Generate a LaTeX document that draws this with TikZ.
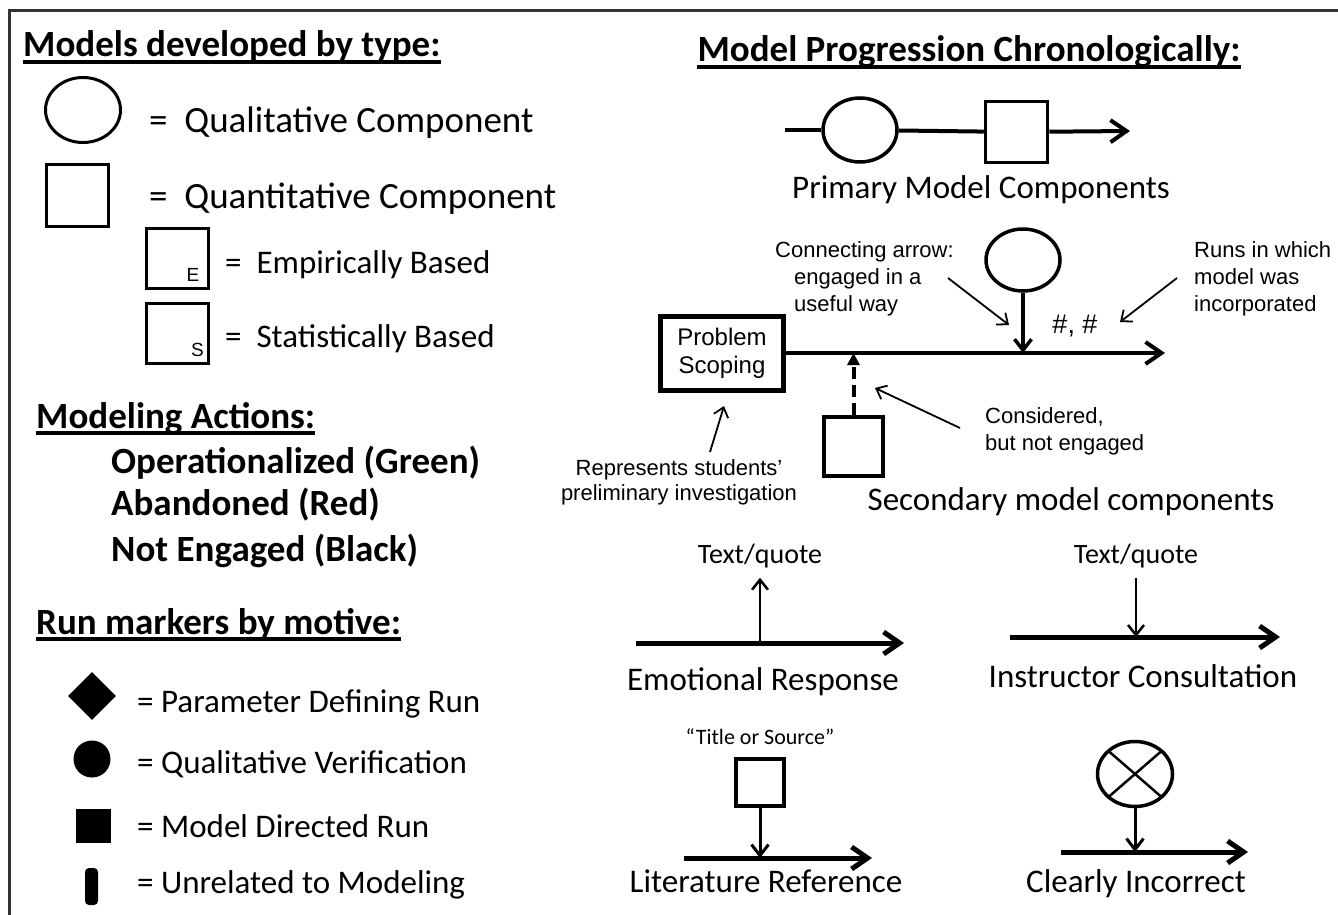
\documentclass[tikz,border=0pt]{standalone}
\usepackage{fontspec}
\setmainfont{Carlito}
\newfontfamily\arialf{Liberation Sans}
\usetikzlibrary{shapes.geometric,arrows.meta}

\begin{document}
\begin{tikzpicture}[x=1pt, y=-1pt,
	heading/.style={anchor=base west, inner sep=0pt, font=\bfseries\fontsize{37}{44}\selectfont},
	big/.style={anchor=base west, inner sep=0pt, font=\fontsize{37}{44}\selectfont},
	body/.style={inner sep=0pt, font=\fontsize{33}{40}\selectfont},
	note/.style={inner sep=0pt, font=\arialf\fontsize{22}{27}\selectfont},
	corner/.style={anchor=base, inner sep=0pt, font=\arialf\fontsize{19}{22}\selectfont},
	quote/.style={anchor=base, inner xsep=0pt, inner ysep=10pt, font=\fontsize{28}{34}\selectfont},
	qual/.style={ellipse, draw, fill=white, inner sep=0pt},
	quant/.style={rectangle, draw, fill=white, inner sep=0pt},
	marker/.style={fill=black, inner sep=0pt},
	bigtip/.style={-{Straight Barb[length=16pt,width=22pt]}},
	midtip/.style={-{Straight Barb[length=11pt,width=17pt]}},
	smalltip/.style={-{Straight Barb[length=10pt,width=16pt]}},
	thin arrow/.style={line width=1.8pt, -{Straight Barb[length=9pt,width=15pt]}}
	]

	\useasboundingbox (0,0) rectangle (1338,915);
	\draw[line width=3pt, black!80] (9,925) -- (9,11) -- (1345,11);

	% models by type
	\node[heading] (hmod) at (23,57) {Models developed by type:};
		\node[qual, line width=3pt, minimum width=75pt, minimum height=65pt] (legqual) at (83,110) {};
		\node[big] (txtqual) at (149,132) {=~~Qualitative Component};
		\node[quant, line width=3pt, minimum size=62pt] (legquant) at (77.5,195.5) {};
		\node[big] (txtquant) at (149,208) {=~~Quantitative Component};
			\node[quant, line width=3pt, minimum width=62pt, minimum height=60pt] (legemp) at (177.5,258.5) {};
			\node[corner] (emp) at (193,281) {E};
			\node[body, anchor=base west] (txtemp) at (225,273) {=~~Empirically Based};
			\node[quant, line width=3pt, minimum width=62pt, minimum height=60pt] (legstat) at (177.5,333.5) {};
			\node[corner] (stat) at (197.5,356) {S};
			\node[body, anchor=base west] (txtstat) at (225,347) {=~~Statistically Based};

	% actions
	\node[heading] (hact) at (36,428) {Modeling Actions:};
		\node[heading] (opr) at (111,473) {Operationalized (Green)};
		\node[heading] (abd) at (111,515) {Abandoned (Red)};
		\node[heading] (neg) at (111,561) {Not Engaged (Black)};

	% run markers
	\node[heading] (hrun) at (36,634) {Run markers by motive:};
		\node[diamond, marker, minimum width=48pt, minimum height=48pt] (mkpar) at (92,696) {};
		\node[body, anchor=base west] (txtpar) at (137,712) {= Parameter Defining Run};
		\node[circle, marker, minimum size=37pt] (mkver) at (92,759) {};
		\node[body, anchor=base west] (txtver) at (137,773) {= Qualitative Verification};
		\node[rectangle, marker, minimum width=35pt, minimum height=34pt] (mkdir) at (93.5,826) {};
		\node[body, anchor=base west] (txtdir) at (137,837) {= Model Directed Run};
		\node[rectangle, marker, rounded corners=4pt, minimum width=13pt, minimum height=37pt] (mkunr) at (91.5,886.5) {};
		\node[body, anchor=base west] (txtunr) at (137,893) {= Unrelated to Modeling};

	% progression
	\node[heading, anchor=base] (hprog) at (969,62) {Model Progression Chronologically:};

	\foreach \h in {hmod,hact,hrun,hprog}
		\draw[line width=3.5pt] ([yshift=-5pt]\h.base west) -- ([yshift=-5pt]\h.base east);

	% primary
	\coordinate (pstart) at (785,130);
	\coordinate (pend) at (1130,131);
	\node[qual, line width=3.5pt, minimum width=74pt, minimum height=64pt] (pqual) at (860,130) {};
	\node[quant, line width=3.5pt, minimum width=62pt, minimum height=61pt] (pquant) at (1016.5,132) {};
	\draw[line width=4pt] (pstart) -- (pqual);
	\draw[line width=4pt] (pqual) -- (pquant);
	\draw[line width=4pt, bigtip] (pquant) -- (pend);
	\node[body, anchor=base] (pcap) at (981,198) {Primary Model Components};

	% secondary
	\node[draw, line width=5pt, minimum width=123pt, minimum height=74pt, inner sep=0pt, align=center, font=\arialf\fontsize{24}{28}\selectfont] (scope) at (722,353) {Problem\\Scoping};
	\coordinate (send) at (1165,353);
	\draw[line width=4pt, bigtip] (scope) -- (send);
	\node[qual, line width=3.5pt, minimum width=74pt, minimum height=62pt] (squal) at (1023,260) {};
	\coordinate (squalin) at (1023,353);
	\draw[line width=3.5pt, midtip] (squal) -- (squalin);
	\node[note, anchor=base, font=\arialf\fontsize{27}{32}\selectfont] (runs) at (1075,333) {\#, \#};
	\node[quant, line width=4pt, minimum width=59pt, minimum height=59pt] (squant) at (853.5,446.5) {};
	\coordinate (squantin) at (853.5,353);
	\draw[line width=4pt, dash pattern=on 12pt off 6pt, -{Triangle[length=12pt,width=12pt]}] (squant) -- (squantin);
	\node[body, anchor=base] (scap) at (1071,510) {Secondary model components};

	\node[note, anchor=base west, align=left] (connnote) at (794,311) {\hspace*{-19pt}Connecting arrow:\\engaged in a\\useful way};
	\node[note, anchor=base west, align=left] (runsnote) at (1194,311) {Runs in which\\model was\\incorporated};
	\node[note, anchor=base west, align=left] (consnote) at (985,450) {Considered,\\but not engaged};
	\node[note, anchor=base, align=center, font=\arialf\fontsize{22}{25}\selectfont] (repnote) at (679,500) {Represents students’\\preliminary investigation};

	\coordinate (conna) at (948,278); \coordinate (connb) at (1009,325);
	\coordinate (runsa) at (1177,278); \coordinate (runsb) at (1120,322);
	\coordinate (consa) at (960,428); \coordinate (consb) at (875,388);
	\coordinate (repa) at (710,452); \coordinate (repb) at (724,406);
	\draw[thin arrow] (conna) -- (connb);
	\draw[thin arrow] (runsa) -- (runsb);
	\draw[thin arrow] (consa) -- (consb);
	\draw[thin arrow] (repa) -- (repb);

	% emotional response
	\coordinate (emoa) at (636,643); \coordinate (emob) at (904,643); \coordinate (emoj) at (760,643);
	\draw[line width=5pt, bigtip] (emoa) -- (emob);
	\node[quote] (emoq) at (760,563) {Text/quote};
	\draw[line width=2.5pt, smalltip] (emoj) -- (emoq);
	\node[body, anchor=base] (emocap) at (763,690) {Emotional Response};

	% instructor consultation
	\coordinate (insa) at (1010,637); \coordinate (insb) at (1280,637); \coordinate (insj) at (1136,637);
	\draw[line width=5pt, bigtip] (insa) -- (insb);
	\node[quote] (insq) at (1136,563) {Text/quote};
	\draw[line width=2.5pt, smalltip] (insq) -- (insj);
	\node[body, anchor=base] (inscap) at (1143,687) {Instructor Consultation};

	% literature reference
	\node[body, anchor=base, font=\fontsize{22}{26}\selectfont] (litq) at (760,744) {“Title or Source”};
	\node[quant, line width=4pt, minimum width=48pt, minimum height=47pt] (litsq) at (760,782.5) {};
	\coordinate (lita) at (684,858); \coordinate (litb) at (872,858); \coordinate (litj) at (760,858);
	\draw[line width=5pt, bigtip] (lita) -- (litb);
	\draw[line width=3pt, midtip] (litsq) -- (litj);
	\node[body, anchor=base] (litcap) at (766,892) {Literature Reference};

	% clearly incorrect
	\node[qual, line width=3.5pt, minimum width=75pt, minimum height=65pt,
		path picture={\draw[line width=2.5pt] (path picture bounding box.north west) -- (path picture bounding box.south east)
			(path picture bounding box.south west) -- (path picture bounding box.north east);}] (wrong) at (1135,774) {};
	\coordinate (wra) at (1061,852); \coordinate (wrb) at (1248,852); \coordinate (wrj) at (1135,852);
	\draw[line width=5pt, bigtip] (wra) -- (wrb);
	\draw[line width=3pt, midtip] (wrong) -- (wrj);
	\node[body, anchor=base] (wrcap) at (1136,892) {Clearly Incorrect};

\end{tikzpicture}
\end{document}
